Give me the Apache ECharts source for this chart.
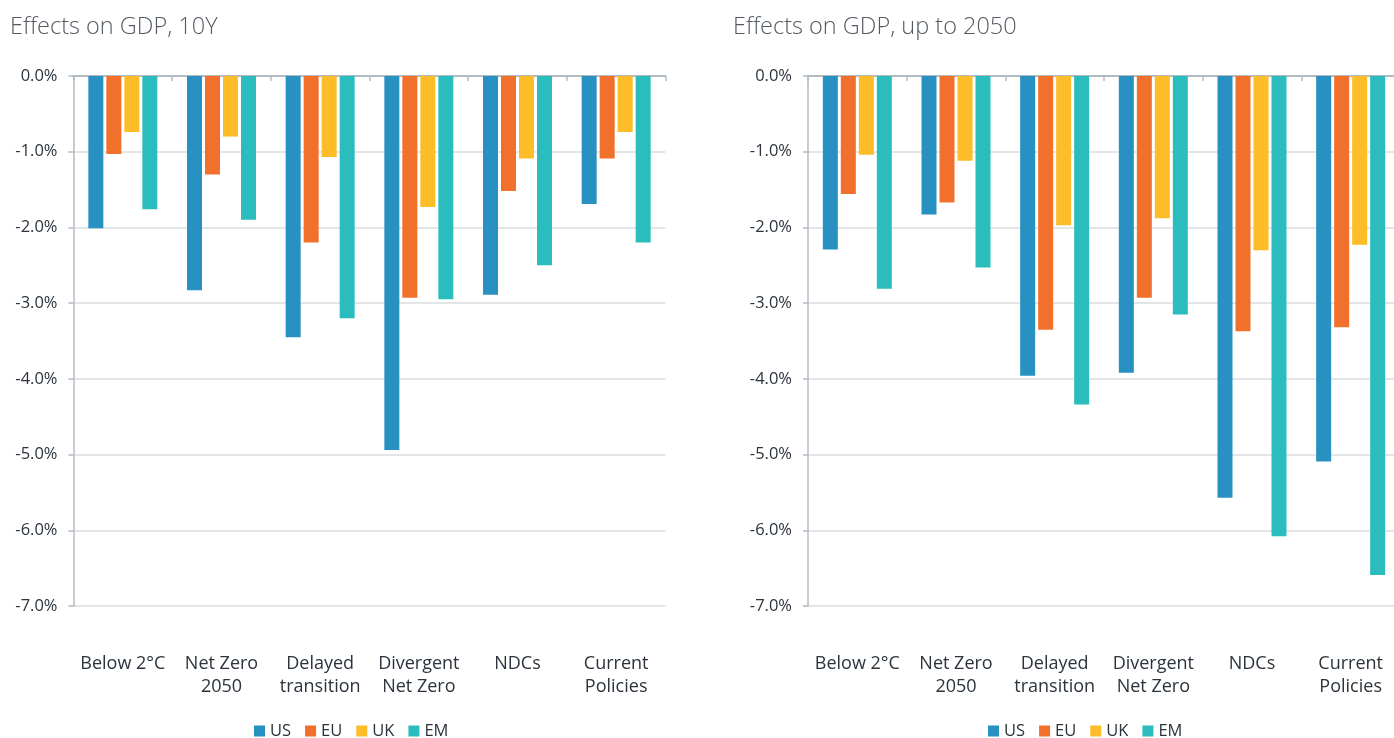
<!DOCTYPE html>
<html>
<head>
<meta charset="utf-8">
<title>Effects on GDP</title>
<script src="https://cdn.jsdelivr.net/npm/echarts@6/dist/echarts.min.js"></script>
<style>
  html, body { margin: 0; padding: 0; background: #fff; }
  #chart { width: 1394px; height: 738px; }
</style>
</head>
<body>
<div id="chart"></div>
<script>
// scenarios on the x axis
var categories = [
  'Below 2°C',
  'Net Zero\n2050',
  'Delayed\ntransition',
  'Divergent\nNet Zero',
  'NDCs',
  'Current\nPolicies'
]
var regions = ['US', 'EU', 'UK', 'EM']

// GDP effect after 10 years, %
var us10y = [-2.01, -2.83, -3.45, -4.94, -2.89, -1.69]
var eu10y = [-1.03, -1.30, -2.20, -2.93, -1.52, -1.09]
var uk10y = [-0.74, -0.80, -1.07, -1.73, -1.09, -0.74]
var em10y = [-1.76, -1.90, -3.20, -2.95, -2.50, -2.20]

// GDP effect up to 2050, %
var us2050 = [-2.29, -1.83, -3.96, -3.92, -5.57, -5.09]
var eu2050 = [-1.56, -1.67, -3.35, -2.93, -3.37, -3.32]
var uk2050 = [-1.04, -1.12, -1.97, -1.88, -2.30, -2.23]
var em2050 = [-2.81, -2.53, -4.34, -3.15, -6.08, -6.59]

var yMin = -7
var yMax = 0
var yStep = 1

var colors = ['#2891c2', '#f1712c', '#fdbd29', '#2bbdbd']
var textColor = '#2b333c'
var fontFamily = '"Open Sans", Lato, sans-serif'

function makeYAxis (gridIndex) {
  return {
    type: 'value',
    gridIndex: gridIndex,
    min: yMin,
    max: yMax,
    interval: yStep,
    axisLine: { show: true, lineStyle: { color: '#b3bbc2', width: 1.5 } },
    axisTick: { show: true, length: 5, lineStyle: { color: '#b3bbc2', width: 1.5 } },
    axisLabel: {
      margin: 16,
      color: textColor,
      fontSize: 16.5,
      fontFamily: fontFamily,
      formatter: function (val) {
        return val.toFixed(1) + '%'
      }
    },
    splitLine: { show: true, lineStyle: { color: '#d9dee1', width: 1.5 } }
  }
}

// axis line + ticks along the 0% line at the top
function makeTopAxis (gridIndex) {
  return {
    type: 'category',
    gridIndex: gridIndex,
    position: 'top',
    data: categories,
    axisLine: { show: true, onZero: false, lineStyle: { color: '#b3bbc2', width: 2 } },
    axisTick: { show: true, inside: true, length: 5, lineStyle: { color: '#b3bbc2', width: 1.5 } },
    axisLabel: { show: false },
    splitLine: { show: false }
  }
}

// labels only, under the plot
function makeBottomAxis (gridIndex) {
  return {
    type: 'category',
    gridIndex: gridIndex,
    position: 'bottom',
    data: categories,
    axisLine: { show: false, onZero: false },
    axisTick: { show: false },
    axisLabel: {
      margin: 46,
      color: textColor,
      fontSize: 18,
      lineHeight: 23,
      fontFamily: fontFamily,
      interval: 0
    }
  }
}

function makeBars (name, data, axisIndex, color) {
  return {
    name: name,
    type: 'bar',
    xAxisIndex: axisIndex,
    yAxisIndex: axisIndex < 2 ? 0 : 1,
    barWidth: 15,
    barGap: '20%',
    itemStyle: { color: color },
    data: data
  }
}

var legendBase = {
  data: regions,
  top: 721,
  padding: 0,
  icon: 'rect',
  itemWidth: 11,
  itemHeight: 11,
  itemGap: 14,
  textStyle: { color: textColor, fontSize: 16.5, lineHeight: 20, fontFamily: fontFamily }
}

var titleStyle = { color: '#535a62', fontSize: 23.5, fontWeight: 300, fontFamily: fontFamily }

var chart = echarts.init(document.getElementById('chart'), null, { renderer: 'canvas' })
chart.setOption({
  color: colors,
  animation: false,
  title: [
    { text: 'Effects on GDP, 10Y', left: 5, top: 10, textStyle: titleStyle },
    { text: 'Effects on GDP, up to 2050', left: 728, top: 10, textStyle: titleStyle }
  ],
  legend: [
    Object.assign({ left: 254 }, legendBase),
    Object.assign({ left: 988 }, legendBase)
  ],
  grid: [
    { left: 73.5, top: 76, width: 592, height: 530, containLabel: false, outerBoundsMode: 'none' },
    { left: 808, top: 76, width: 592, height: 530, containLabel: false, outerBoundsMode: 'none' }
  ],
  // 0,1 -> left chart; 2,3 -> right chart
  xAxis: [makeTopAxis(0), makeBottomAxis(0), makeTopAxis(1), makeBottomAxis(1)],
  yAxis: [makeYAxis(0), makeYAxis(1)],
  series: [
    makeBars('US', us10y, 0, colors[0]),
    makeBars('EU', eu10y, 0, colors[1]),
    makeBars('UK', uk10y, 0, colors[2]),
    makeBars('EM', em10y, 0, colors[3]),
    makeBars('US', us2050, 2, colors[0]),
    makeBars('EU', eu2050, 2, colors[1]),
    makeBars('UK', uk2050, 2, colors[2]),
    makeBars('EM', em2050, 2, colors[3])
  ]
})
</script>
</body>
</html>
